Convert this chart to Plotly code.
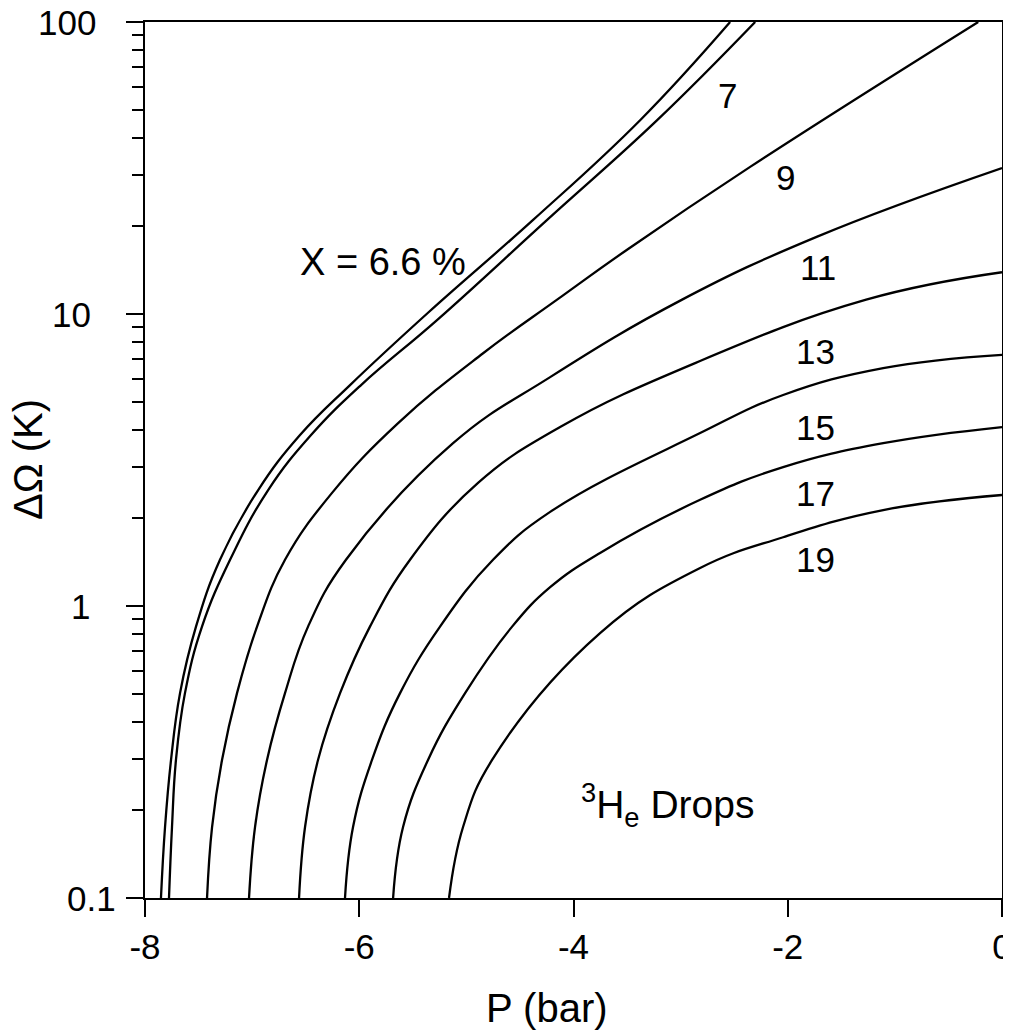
import math
import plotly.graph_objects as go

# ---- data (P in bar, dOmega in K) ----
P_66 = [-7.851, -7.813, -7.757, -7.673, -7.524, -7.300, -6.945, -6.553, -6.086, -5.358, -4.377, -3.378, -2.538]
W_66 = [0.1, 0.175, 0.297, 0.503, 0.85, 1.44, 2.49, 3.85, 5.71, 10.1, 21.0, 46.1, 100]

P_7 = [-7.776, -7.748, -7.711, -7.627, -7.468, -7.206, -6.852, -6.450, -5.983, -5.274, -4.246, -3.219, -2.304]
W_7 = [0.1, 0.175, 0.297, 0.503, 0.85, 1.44, 2.49, 3.85, 5.71, 9.53, 21.0, 46.1, 100]

P_9 = [-7.421, -7.374, -7.281, -7.141, -6.954, -6.693, -6.254, -5.637, -4.844, -4.153, -3.500, -2.351, -0.222]
W_9 = [0.1, 0.175, 0.297, 0.503, 0.85, 1.44, 2.44, 4.23, 7.34, 11.2, 16.6, 31.9, 100]

P_11 = [-7.029, -6.973, -6.861, -6.693, -6.478, -6.124, -5.124, -4.218, -2.986, -1.725, 0.0]
W_11 = [0.1, 0.175, 0.297, 0.503, 0.85, 1.44, 3.61, 6.08, 11.2, 18.4, 31.6]

P_13 = [-6.562, -6.506, -6.385, -6.179, -5.900, -5.526, -4.891, -4.125, -2.865, -1.268, 0.0]
W_13 = [0.1, 0.175, 0.297, 0.503, 0.85, 1.44, 2.64, 4.10, 6.79, 11.2, 13.9]

P_15 = [-6.133, -6.058, -5.881, -5.619, -5.246, -4.751, -4.218, -2.818, -2.043, -1.109, 0.0]
W_15 = [0.1, 0.175, 0.297, 0.503, 0.85, 1.44, 2.10, 3.91, 5.28, 6.53, 7.25]

P_17 = [-5.684, -5.591, -5.358, -5.012, -4.573, -4.218, -3.752, -2.818, -2.043, -1.109, 0.0]
W_17 = [0.1, 0.175, 0.297, 0.503, 0.85, 1.16, 1.52, 2.31, 2.99, 3.61, 4.10]

P_19 = [-5.162, -5.031, -4.760, -3.752, -2.818, -2.043, -1.109, 0.0]
W_19 = [0.1, 0.175, 0.297, 0.808, 1.35, 1.72, 2.13, 2.40]

series = [(P_66, W_66), (P_7, W_7), (P_9, W_9), (P_11, W_11),
          (P_13, W_13), (P_15, W_15), (P_17, W_17), (P_19, W_19)]

x_ticks = [-8, -6, -4, -2, 0]
x_ticktext = ["-8", "-6", "-4", "-2", "0"]
y_ticks = [0.1, 1, 10, 100]
y_ticktext = ["0.1", "1", "10", "100"]

FONT = "Liberation Sans"

# plot-area geometry in reference pixels; the page body adds an 8 px offset
OFF = 8
FIG_W, FIG_H = 1011 - OFF, 1034 - OFF
L, R, T, B = 145, 1002, 22, 898
W_PX, H_PX = R - L, B - T

fig = go.Figure()
for p, w in series:
    fig.add_trace(go.Scatter(x=p, y=w, mode="lines",
                             line=dict(color="black", width=2.3, shape="spline", smoothing=1.2),
                             showlegend=False, hoverinfo="skip"))

fig.update_layout(
    width=FIG_W, height=FIG_H,
    margin=dict(l=L - OFF, r=FIG_W - (R - OFF), t=T - OFF, b=FIG_H - (B - OFF), autoexpand=False),
    paper_bgcolor="white", plot_bgcolor="white",
    font=dict(family=FONT, size=34, color="black"),
    showlegend=False,
)

fig.update_xaxes(
    range=[-8, 0], tickvals=x_ticks, ticktext=x_ticktext,
    ticks="outside", ticklen=17, tickwidth=2, tickcolor="black",
    showline=True, linewidth=2, linecolor="black", mirror=True,
    showgrid=False, zeroline=False, automargin=False,
    ticklabeloverflow="allow",
    tickfont=dict(family=FONT, size=35),
)
fig.update_yaxes(
    type="log", range=[-1, 2], tickvals=y_ticks,
    showticklabels=False,
    ticks="outside", ticklen=17, tickwidth=2, tickcolor="black",
    minor=dict(ticks="outside", ticklen=11, tickwidth=2, tickcolor="black",
               dtick="D1", showgrid=False),
    showline=True, linewidth=2, linecolor="black", mirror=True,
    showgrid=False, zeroline=False, automargin=False,
)

# y tick labels (placed like in the reference)
y_label_right = [118, 92, 93, 98]
for val, txt, rpx in zip(y_ticks, y_ticktext, y_label_right):
    fig.add_annotation(text=txt, xref="paper", yref="y", x=(rpx - L) / W_PX,
                       y=math.log10(val), xanchor="right", yanchor="middle",
                       showarrow=False, font=dict(family=FONT, size=35, color="black"))

def label(text, x, y, size=35, **kw):
    fig.add_annotation(text=text, x=x, y=y, xref="x", yref="y", showarrow=False,
                       xanchor="center", yanchor="middle",
                       font=dict(family=FONT, size=size, color="black"), **kw)

label("7", -2.566, 1.75)
label("9", -2.024, 1.466)
label("11", -1.716, 1.158)
label("13", -1.744, 0.870)
label("15", -1.744, 0.613)
label("17", -1.744, 0.387)
label("19", -1.744, 0.158)
label("X = 6.6 %", -5.778, 1.178, size=38)
label("<sup>3</sup>H<sub>e</sub> Drops", -3.126, -0.682, size=39)

fig.add_annotation(text="P (bar)", xref="paper", yref="paper",
                   x=(547 - L) / W_PX, y=-(1008 - B) / H_PX,
                   xanchor="center", yanchor="middle",
                   showarrow=False, font=dict(family=FONT, size=40, color="black"))
fig.add_annotation(text="ΔΩ (K)", xref="paper", yref="paper",
                   x=-(L - 28) / W_PX, y=(B - 460) / H_PX, textangle=-90,
                   xanchor="center", yanchor="middle",
                   showarrow=False, font=dict(family=FONT, size=40, color="black"))

fig.write_html("out.html")
